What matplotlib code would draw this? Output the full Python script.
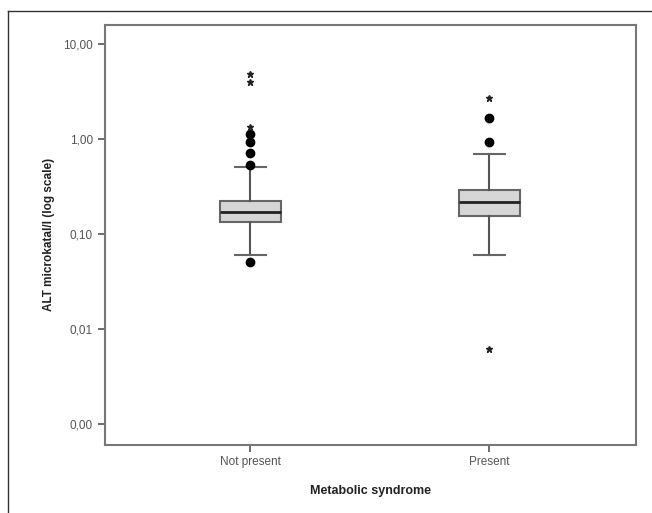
import matplotlib.pyplot as plt
from matplotlib.lines import Line2D

plt.rcParams['font.family'] = ['Liberation Sans', 'DejaVu Sans']

groups = ['Not present', 'Present']

# box statistics (microkatal/l)
q1 = [0.134, 0.155]
med = [0.173, 0.218]
q3 = [0.226, 0.293]
whislo = [0.061, 0.061]
whishi = [0.515, 0.70]

# outliers: circles and extreme values (stars)
circles = [[0.051, 0.537, 0.718, 0.935, 1.13], [0.94, 1.66]]
stars = [[1.35, 3.96, 4.84], [0.0061, 2.71]]

ticks = [0.001, 0.01, 0.1, 1, 10]
tick_labels = ['0,00', '0,01', '0,10', '1,00', '10,00']

fig = plt.figure(figsize=(6.52, 5.13), dpi=100)
ax = fig.add_axes([0.1603, 0.1335, 0.8152, 0.8187])

stats = []
for i in range(2):
    stats.append(dict(q1=q1[i], med=med[i], q3=q3[i], whislo=whislo[i],
                      whishi=whishi[i], fliers=[], label=groups[i]))

ax.bxp(stats, positions=[1, 2], widths=0.255, patch_artist=True,
       showfliers=False,
       boxprops=dict(facecolor='#d6d6d6', edgecolor='#666666', linewidth=1.5),
       medianprops=dict(color='#222222', linewidth=2),
       whiskerprops=dict(color='#555555', linewidth=1.5),
       capprops=dict(color='#666666', linewidth=1.5), capwidths=0.13)

for i in range(2):
    ax.plot([i + 1] * len(circles[i]), circles[i], 'o', color='black',
            markersize=6, linestyle='none')
    ax.plot([i + 1] * len(stars[i]), stars[i], '*', color='#222222',
            markersize=5, linestyle='none')

ax.set_yscale('log')
ax.set_ylim(10 ** -3.216, 10 ** 1.208)
ax.set_xlim(0.391, 2.615)
ax.set_yticks(ticks)
ax.set_yticklabels(tick_labels)
ax.minorticks_off()
ax.tick_params(axis='both', colors='#555555', labelcolor='#555555',
               labelsize=8.5, length=5, width=1.2)

for s in ax.spines.values():
    s.set_color('#777777')
    s.set_linewidth(1.5)

ax.set_xlabel('Metabolic syndrome', fontweight='bold', fontsize=9,
              color='#222222', labelpad=12)
ax.set_ylabel('ALT microkatal/l (log scale)', fontweight='bold', fontsize=8.5,
              color='#222222', labelpad=6)

# outer frame (left and top edges)
fig.add_artist(Line2D([7.5 / 652, 7.5 / 652], [0, 1 - 11 / 513], color='#333333', lw=1))
fig.add_artist(Line2D([7.5 / 652, 1], [1 - 11 / 513, 1 - 11 / 513], color='#333333', lw=1))

plt.savefig('out.png', dpi=100)
